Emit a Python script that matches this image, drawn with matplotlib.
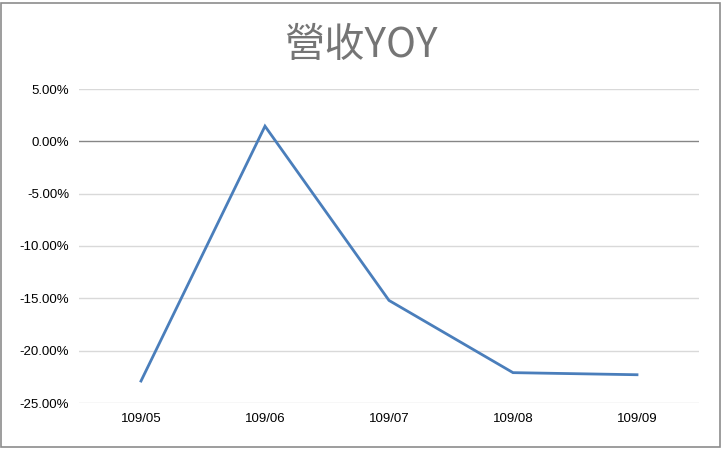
import matplotlib
matplotlib.use("Agg")
import matplotlib.pyplot as plt
from matplotlib.ticker import FuncFormatter
from matplotlib.patches import Rectangle

categories = ["109/05", "109/06", "109/07", "109/08", "109/09"]
yoy = [-22.9, 1.45, -15.2, -22.1, -22.3]
y_ticks = [5, 0, -5, -10, -15, -20, -25]
title = "營收YOY"

plt.rcParams['font.family'] = ['Noto Sans CJK TC', 'DejaVu Sans']

W, H = 725, 450
fig = plt.figure(figsize=(W / 100, H / 100), dpi=100)
fig.patch.set_facecolor("white")

left, right = 79, 699
top, bottom = 89, 403
ax = fig.add_axes([left / W, 1 - bottom / H, (right - left) / W, (bottom - top) / H])

x = list(range(len(categories)))
ax.plot(x, yoy, color="#4a7ebb", linewidth=2.0, solid_joinstyle="miter", zorder=3)

ax.set_xlim(-0.5, len(categories) - 0.5)
ax.set_ylim(-25, 5)
ax.set_yticks(y_ticks)
ax.yaxis.set_major_formatter(FuncFormatter(lambda v, p: f"{v:.2f}%"))
ax.set_xticks(x)
ax.set_xticklabels(categories)

for v in y_ticks:
    if v == 0:
        ax.axhline(v, color="#868686", linewidth=1.0, zorder=2)
    else:
        ax.axhline(v, color="#d9d9d9", linewidth=1.0, zorder=1)

for s in ax.spines.values():
    s.set_visible(False)
ax.tick_params(axis="both", length=0, labelsize=9.5, colors="#000000")
ax.tick_params(axis="x", pad=7)
ax.tick_params(axis="y", pad=7)
for lbl in ax.get_xticklabels() + ax.get_yticklabels():
    lbl.set_fontfamily(['Liberation Sans', 'DejaVu Sans'])
    lbl.set_color("#000000")

fig.text(361 / W, 1 - 46 / H, title, ha="center", va="center", fontsize=29,
         color="#757575", family=['Noto Sans CJK TC', 'DejaVu Sans'])

fig.patches.append(Rectangle((1 / W, 1 - 447 / H), 719 / W, 444 / H, transform=fig.transFigure,
                             fill=False, edgecolor="#8c8c8c", linewidth=1.2))

fig.savefig("out.png", dpi=100, facecolor="white")
